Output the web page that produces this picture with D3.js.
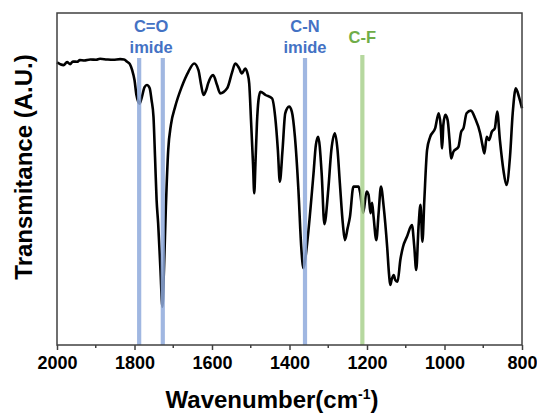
<!DOCTYPE html>
<html>
<head>
<meta charset="utf-8">
<script src="https://cdn.jsdelivr.net/npm/d3@7"></script>
<style>
body { margin: 0; background: #fff; }
svg { display: block; font-family: "Liberation Sans", Arial, sans-serif; }
</style>
</head>
<body>
<svg id="chart"></svg>
<script>
// FTIR spectrum, wavenumber (cm-1) vs transmittance (arbitrary units)
var wavenumber = [2000, 1992, 1983, 1974, 1966, 1959, 1948, 1941, 1930, 1914, 1899, 1889, 1871, 1855, 1837, 1827,
	1819, 1812, 1806, 1800, 1795, 1787, 1781, 1774, 1768, 1761, 1756, 1751, 1747, 1743, 1739, 1733, 1728, 1724,
	1719, 1713, 1706, 1695, 1678, 1661, 1646, 1635, 1628, 1622, 1615, 1610, 1597, 1587, 1579, 1561, 1548, 1540,
	1530, 1523, 1514, 1508, 1504, 1499, 1494, 1491, 1488, 1484, 1480, 1475, 1462, 1445, 1437, 1430, 1425, 1418,
	1411, 1401, 1394, 1386, 1377, 1370, 1364, 1359, 1351, 1338, 1332, 1326, 1317, 1310, 1300, 1292, 1283, 1276,
	1270, 1262, 1257, 1250, 1244, 1235, 1222, 1218, 1210, 1201, 1196, 1191, 1187, 1183, 1176, 1170, 1164, 1157,
	1148, 1143, 1140, 1136, 1131, 1127, 1121, 1114, 1107, 1097, 1084, 1078, 1073, 1067, 1062, 1057, 1052, 1045,
	1037, 1024, 1015, 1010, 1006, 1003, 998, 992, 987, 983, 977, 964, 957, 951, 943, 932, 921, 908, 902, 897,
	891, 885, 878, 870, 864, 857, 848, 840, 831, 824, 816, 808, 800];
var transmittance = [85.1, 84.6, 84.3, 85.2, 84.6, 85.4, 85.3, 85.8, 85.7, 86.0, 85.9, 86.2, 86.0, 85.9, 86.1, 86.0,
	85.3, 84.6, 82.8, 79.8, 75.3, 72.7, 74.7, 77.7, 78.3, 77.4, 73.8, 68.7, 56.6, 43.7, 36.7, 22.6, 11.5, 22.6,
	41.7, 58.7, 66.3, 71.8, 77.8, 82.3, 84.8, 82.8, 78.3, 75.3, 76.8, 78.8, 81.3, 78.3, 75.8, 77.3, 82.2, 84.8,
	83.4, 81.8, 83.3, 81.6, 78.8, 66.9, 54.2, 45.7, 54.2, 66.9, 73.8, 76.3, 75.3, 74.3, 68.8, 58.7, 49.2, 58.7,
	69.8, 71.8, 70.3, 62.7, 46.7, 30.1, 23.1, 26.2, 34.6, 51.7, 60.2, 62.7, 51.7, 36.4, 46.7, 58.7, 63.8, 58.7,
	48.7, 36.1, 31.6, 35.2, 38.6, 47.7, 47.7, 46.1, 39.8, 46.2, 45.2, 39.7, 42.8, 38.6, 31.6, 39.8, 47.7, 41.7,
	29.6, 21.1, 18.1, 19.9, 21.1, 19.6, 19.1, 25.6, 29.6, 32.6, 36.1, 29.6, 22.6, 35.6, 42.2, 31.1, 43.7, 58.7,
	62.7, 65.3, 69.8, 66.3, 59.2, 66.3, 69.3, 67.8, 61.7, 56.2, 58.2, 59.7, 64.2, 65.3, 69.8, 70.6, 68.3, 63.8, 60.2, 57.7,
	62.7, 61.7, 64.2, 65.3, 70.3, 61.7, 52.7, 48.2, 56.7, 69.8, 77.3, 74.8, 71.3];

var xTicks = [2000, 1800, 1600, 1400, 1200, 1000, 800];
var minorTicks = [1900, 1700, 1500, 1300, 1100, 900];

// marker bands and their labels
var bandWn = [1788, 1727, 1360, 1212];
var bandGroup = ["imide", "imide", "imide", "cf"];
var labelWn = [1757, 1360, 1212];
var labelLines = [["C=O", "imide"], ["C-N", "imide"], ["C-F"]];
var labelGroup = ["imide", "imide", "cf"];

var width = 537,
	height = 414;
var margin = { top: 13, right: 15, bottom: 69, left: 57 };

var svg = d3.select("#chart")
	.attr("width", width)
	.attr("height", height);

var x = d3.scaleLinear()
	.domain([2000, 800])
	.range([margin.left, width - margin.right]);
var y = d3.scaleLinear()
	.domain([0, 100])
	.range([height - margin.bottom, margin.top]);

var bandColor = function (g) {
	return g == "cf" ? "#a9d18e" : "#8faadc";
};
var textColor = function (g) {
	return g == "cf" ? "#70ad47" : "#4472c4";
};

var pts = wavenumber.map(function (d, i) { return [d, transmittance[i]]; });

var line = d3.line()
	.x(function (d) { return x(d[0]); })
	.y(function (d) { return y(d[1]); })
	.curve(d3.curveMonotoneX);

svg.append("path")
	.datum(pts)
	.attr("fill", "none")
	.attr("stroke", "#000")
	.attr("stroke-width", 2.6)
	.attr("stroke-linejoin", "round")
	.attr("d", line);

// bands drawn over the curve, slightly see-through
svg.selectAll(".band")
	.data(bandWn)
	.enter()
	.append("line")
	.attr("class", "band")
	.attr("x1", function (d) { return x(d); })
	.attr("x2", function (d) { return x(d); })
	.attr("y1", function (d, i) { return bandGroup[i] == "cf" ? 55 : 58; })
	.attr("y2", y(0))
	.attr("stroke", function (d, i) { return bandColor(bandGroup[i]); })
	.attr("stroke-width", 4.2)
	.attr("stroke-opacity", 0.85);

var labels = svg.selectAll(".blabel")
	.data(labelWn)
	.enter()
	.append("text")
	.attr("class", "blabel")
	.attr("text-anchor", "middle")
	.attr("font-size", "16.5px")
	.attr("font-weight", "bold")
	.attr("fill", function (d, i) { return textColor(labelGroup[i]); });

labels.each(function (d, i) {
	var t = d3.select(this);
	var lines = labelLines[i];
	var base = lines.length == 1 ? 42.5 : 32;
	lines.forEach(function (s, k) {
		t.append("tspan")
			.attr("x", x(d))
			.attr("y", base + k * 21)
			.text(s);
	});
});

// frame
svg.append("rect")
	.attr("x", x(2000))
	.attr("y", y(100))
	.attr("width", x(800) - x(2000))
	.attr("height", y(0) - y(100))
	.attr("fill", "none")
	.attr("stroke", "#404040")
	.attr("stroke-width", 1.5);

var xAxis = svg.append("g")
	.attr("transform", "translate(0," + y(0) + ")")
	.call(d3.axisBottom(x).tickValues(xTicks).tickSize(5).tickPadding(6).tickFormat(d3.format("d")));
xAxis.select(".domain").remove();
xAxis.selectAll(".tick line").attr("stroke", "#404040").attr("stroke-width", 1.5);
xAxis.selectAll(".tick text")
	.attr("fill", "#000")
	.style("font-family", "\"Liberation Sans\", Arial, sans-serif")
	.style("font-size", "18px")
	.style("font-weight", "bold");

svg.append("g")
	.selectAll("line")
	.data(minorTicks)
	.enter()
	.append("line")
	.attr("x1", function (d) { return x(d); })
	.attr("x2", function (d) { return x(d); })
	.attr("y1", y(0))
	.attr("y2", y(0) + 3)
	.attr("stroke", "#404040")
	.attr("stroke-width", 1.5);

// axis titles
var xt = svg.append("text")
	.attr("x", 272)
	.attr("y", 408)
	.attr("text-anchor", "middle")
	.style("font-size", "24px")
	.style("font-weight", "bold")
	.attr("fill", "#000");
xt.append("tspan").text("Wavenumber(cm");
xt.append("tspan").attr("dy", -9).style("font-size", "14px").text("-1");
xt.append("tspan").attr("dy", 9).text(")");

svg.append("text")
	.attr("transform", "translate(32," + 167 + ") rotate(-90)")
	.attr("text-anchor", "middle")
	.style("font-size", "24px")
	.style("font-weight", "bold")
	.attr("fill", "#000")
	.text("Transmitance (A.U.)");
</script>
</body>
</html>
